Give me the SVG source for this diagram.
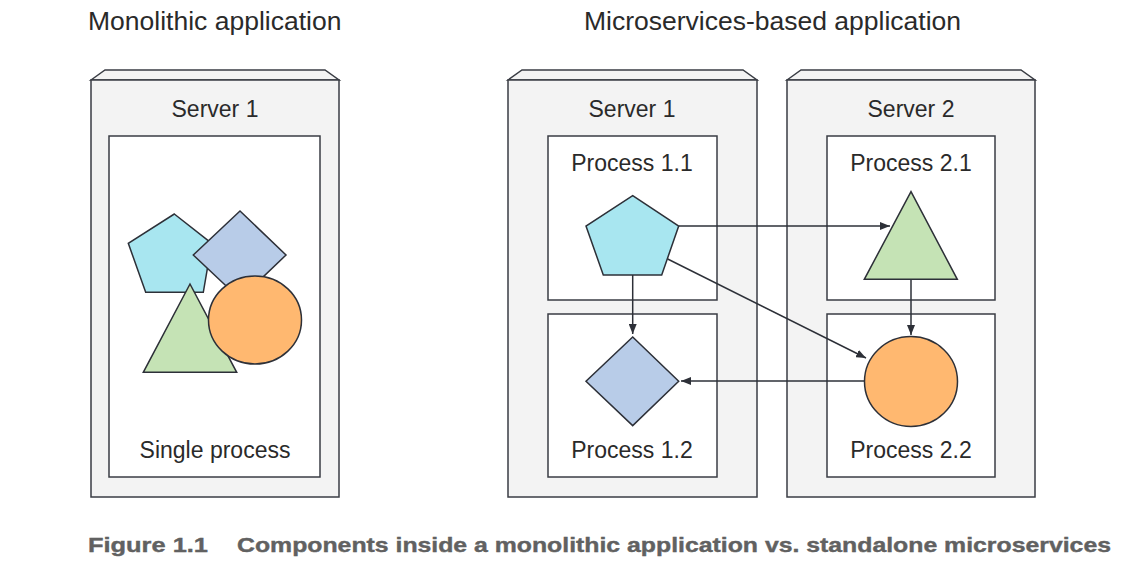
<svg xmlns="http://www.w3.org/2000/svg" width="1146" height="571" viewBox="0 0 1146 571">
<style>
.srv{fill:#f3f3f3;stroke:#3a3d44;stroke-width:1.5}
.box{fill:#ffffff;stroke:#3a3d44;stroke-width:1.5}
.sh{stroke:#2d3038;stroke-width:1.5;stroke-linejoin:miter}
.pent{fill:#a8e6f0}.dia{fill:#b8cce8}.tri{fill:#c5e3b5}.circ{fill:#ffb870}
.lbl{font-family:"Liberation Sans",Arial,sans-serif;font-size:23px;fill:#2a2a2a;text-anchor:middle}
.ttl{font-family:"Liberation Sans",Arial,sans-serif;font-size:26.5px;fill:#2a2a2a}
.cap{font-family:"Liberation Sans",Arial,sans-serif;font-size:21px;font-weight:bold;fill:#616161;stroke:#616161;stroke-width:0.4}
.con{stroke:#2d3038;stroke-width:1.5;fill:none;marker-end:url(#ah)}
</style>
<defs>
<marker id="ah" viewBox="0 0 10 8" refX="10" refY="4" markerWidth="10" markerHeight="8" markerUnits="userSpaceOnUse" orient="auto">
<path d="M0,0 L10,4 L0,8 Z" fill="#2d3038"/>
</marker>
</defs>
<rect width="1146" height="571" fill="#ffffff"/>
<text class="ttl" x="88" y="30">Monolithic application</text>
<text class="ttl" x="584" y="30">Microservices-based application</text>

<g id="mono-server">
<polygon class="srv" points="91,80 105,70 325,70 339,80"/>
<rect class="srv" x="91" y="80" width="248" height="417"/>
<text class="lbl" x="215" y="117">Server 1</text>
</g>
<g id="mono-process">
<rect class="box" x="109" y="136" width="211" height="341"/>
<text class="lbl" x="215" y="458">Single process</text>
<polygon class="sh pent" points="174.3,214 211.7,243.3 203.3,292.3 145.7,292.3 128.3,243.3"/>
<polygon class="sh dia" points="240,211 286,255 240,299 193.3,255"/>
<polygon class="sh tri" points="190,284 236.7,372.3 143.3,372.3"/>
<ellipse class="sh circ" cx="255" cy="320" rx="46.5" ry="44"/>
</g>

<g id="server-1">
<polygon class="srv" points="508,80 522,70 743,70 757,80"/>
<rect class="srv" x="508" y="80" width="249" height="417"/>
<text class="lbl" x="632" y="117">Server 1</text>
</g>
<g id="server-2">
<polygon class="srv" points="787,80 801,70 1021,70 1035,80"/>
<rect class="srv" x="787" y="80" width="248" height="417"/>
<text class="lbl" x="911" y="117">Server 2</text>
</g>
<g id="process-1-1">
<rect class="box" x="548" y="136" width="169" height="164"/>
<text class="lbl" x="632" y="171">Process 1.1</text>
</g>
<g id="process-1-2">
<rect class="box" x="548" y="314" width="169" height="163"/>
<text class="lbl" x="632" y="458">Process 1.2</text>
</g>
<g id="process-2-1">
<rect class="box" x="827" y="136" width="168" height="164"/>
<text class="lbl" x="911" y="171">Process 2.1</text>
</g>
<g id="process-2-2">
<rect class="box" x="827" y="314" width="168" height="163"/>
<text class="lbl" x="911" y="458">Process 2.2</text>
</g>

<g id="connectors">
<line class="con" x1="679" y1="226" x2="890" y2="226"/>
<line class="con" x1="632.7" y1="275" x2="632.7" y2="334"/>
<line class="con" x1="667.7" y1="259" x2="866" y2="358"/>
<line class="con" x1="911" y1="279" x2="911" y2="335"/>
<line class="con" x1="864" y1="381" x2="681" y2="381"/>
</g>

<g id="pentagon">
<polygon class="sh pent" points="632.7,195.7 678.7,226 661.7,275 603.3,275 586,226"/>
</g>
<g id="diamond">
<polygon class="sh dia" points="632.7,337 678.7,381.3 632.7,425.6 586,381.3"/>
</g>
<g id="triangle">
<polygon class="sh tri" points="911,191.7 957.3,279.3 864.3,279.3"/>
</g>
<g id="circle">
<ellipse class="sh circ" cx="911" cy="381.5" rx="46.5" ry="45"/>
</g>

<text class="cap" x="88" y="552" textLength="120" lengthAdjust="spacingAndGlyphs">Figure 1.1</text>
<text class="cap" x="237" y="552" textLength="874" lengthAdjust="spacingAndGlyphs">Components inside a monolithic application vs. standalone microservices</text>
</svg>
